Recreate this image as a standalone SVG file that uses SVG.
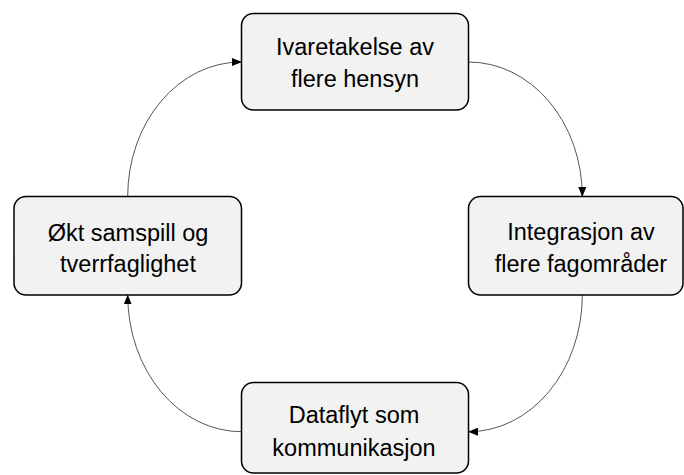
<svg xmlns="http://www.w3.org/2000/svg" width="684" height="475" viewBox="0 0 684 475">
<style>
.box{fill:#f2f2f2;stroke:#000;stroke-width:1.5}
.lbl{font-family:"Liberation Sans",Arial,sans-serif;font-size:23.5px;fill:#000;text-anchor:middle}
.conn{fill:none;stroke:#555;stroke-width:1}
</style>
<defs>
<marker id="arr" markerUnits="userSpaceOnUse" markerWidth="10" markerHeight="8" refX="9" refY="4" orient="auto">
<path d="M0,0 L10,4 L0,8 z" fill="#000"/>
</marker>
</defs>
<rect width="684" height="475" fill="#fff"/>
<g id="connectors">
<path class="conn" d="M127.7,196.5 A113.3 134.5 0 0 1 241,62" marker-end="url(#arr)"/>
<path class="conn" d="M468.5,62 A113.8 134.5 0 0 1 582.3,196" marker-end="url(#arr)"/>
<path class="conn" d="M582.3,295 A113.8 136.7 0 0 1 469,431.7" marker-end="url(#arr)"/>
<path class="conn" d="M241.5,431.7 A113.8 136.7 0 0 1 127.7,295.5" marker-end="url(#arr)"/>
</g>
<g id="node-top">
<rect class="box" x="241.5" y="13.5" width="227" height="96.5" rx="12"/>
<text class="lbl" x="355" y="55">Ivaretakelse av</text>
<text class="lbl" x="355" y="87">flere hensyn</text>
</g>
<g id="node-right">
<rect class="box" x="468.5" y="196.5" width="214.5" height="98.5" rx="12"/>
<text class="lbl" x="581" y="239.5">Integrasjon av</text>
<text class="lbl" x="581" y="271.5">flere fagområder</text>
</g>
<g id="node-bottom">
<rect class="box" x="241.5" y="382.5" width="227" height="90.5" rx="12"/>
<text class="lbl" x="354" y="423">Dataflyt som</text>
<text class="lbl" x="354" y="455.5">kommunikasjon</text>
</g>
<g id="node-left">
<rect class="box" x="14" y="196.5" width="227.5" height="98.5" rx="12"/>
<text class="lbl" x="128" y="241">Økt samspill og</text>
<text class="lbl" x="128" y="272">tverrfaglighet</text>
</g>
</svg>
